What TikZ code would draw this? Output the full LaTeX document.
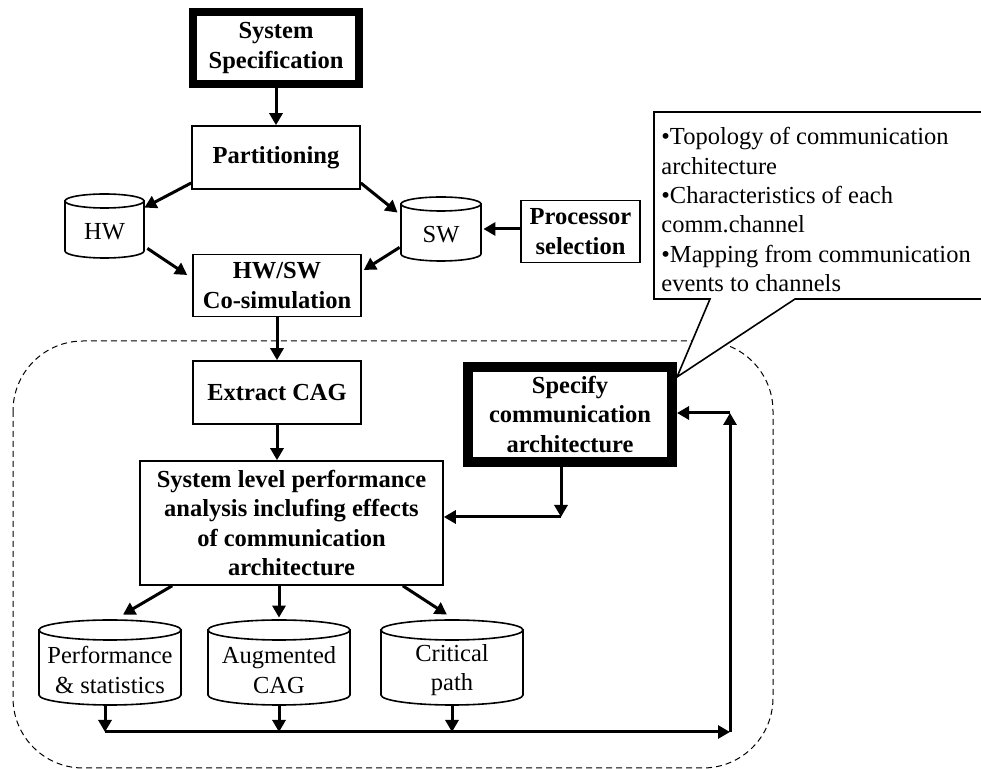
\documentclass[tikz,border=0pt]{standalone}
\usepackage{fontspec}
\setmainfont{Liberation Serif}
\usetikzlibrary{arrows.meta,calc}
\newcommand\dbcyl[7]{% name, cx, cy, half width, half height, ry, text
  \pgfmathsetmacro\cL{#2-#4}\pgfmathsetmacro\cR{#2+#4}%
  \pgfmathsetmacro\cT{#3-#5+#6}\pgfmathsetmacro\cB{#3+#5-#6}%
  \pgfmathsetmacro\cTy{#3+0.75*#6}%
  \draw[cylline] (\cL,\cT) -- (\cL,\cB) arc[start angle=180,end angle=0,x radius=#4,y radius=#6] -- (\cR,\cT) -- cycle;
  \draw[cylline] (#2,\cT) ellipse[x radius=#4,y radius=#6];
  \node[inner sep=0pt, minimum width=#4 pt, minimum height=#5 pt] (#1) at (#2,#3) {};
  \node[inner sep=0pt, align=center] (#1-t) at (#2,\cTy) {#7};
}
\begin{document}
\begin{tikzpicture}[x=0.5pt,y=-0.5pt,
  font=\fontsize{12.25}{14.7}\selectfont,
  box/.style={draw, line width=0.8pt, fill=white, align=center, inner sep=0pt,
    font=\fontsize{12.25}{14.7}\selectfont\bfseries},
  thickbox/.style={box, line width=4pt},
  thickerbox/.style={box, line width=5pt},
  cylline/.style={draw, line width=0.8pt, fill=white},
  arr/.style={line width=1.5pt, -{Triangle[length=6pt,width=6.5pt]}},
  region/.style={draw, dashed, dash pattern=on 3pt off 2pt, line width=0.5pt, rounded corners=35pt},
  callout/.style={draw, line width=0.8pt, fill=white},
]
\useasboundingbox (0,0) rectangle (981,769);
\clip (0,0) rectangle (981,769);

% dashed region
\draw[region] (13,341) rectangle (773,768);

% boxes
\node[thickbox, minimum width=83pt, minimum height=36pt] (spec) at (276,48) {System\\Specification};
\node[box, minimum width=84pt, minimum height=31.5pt] (part) at (276,157.5) {Partitioning};
\node[box, minimum width=59.5pt, minimum height=31pt] (proc) at (580.5,231.5) {Processor\\selection};
\node[box, minimum width=84pt, minimum height=31pt] (cosim) at (277,285.5) {HW/SW\\Co-simulation};
\node[box, minimum width=84pt, minimum height=31.5pt] (extract) at (277,392.5) {Extract CAG};
\node[box, minimum width=151.5pt, minimum height=62pt] (sys) at (291.5,523) {System level performance\\analysis inclufing effects\\of communication\\architecture};
\node[thickerbox, minimum width=102pt, minimum height=47.5pt] (specify) at (570,414.5) {Specify\\communication\\architecture};

% cylinders
\dbcyl{hw}{104.5}{226}{39.5}{32}{7}{HW}
\dbcyl{sw}{441}{229}{40}{32}{7}{SW}
\dbcyl{perf}{110}{662.5}{71}{42.5}{10}{Performance\\\& statistics}
\dbcyl{aug}{279}{662.5}{71}{42.5}{10}{Augmented\\CAG}
\dbcyl{crit}{452}{662.5}{71}{42.5}{10}{Critical\\path}

% connectors
\draw[arr] (spec) -- (part);
\draw[arr] ([yshift=-12.75pt]part.west) -- ([yshift=-7pt]hw.north east);
\draw[arr] ([yshift=-12.75pt]part.east) -- ([xshift=-1.5pt,yshift=-8pt]sw.north west);
\draw[arr] ([xshift=1.5pt,yshift=5pt]hw.south east) -- ([xshift=-2.5pt,yshift=5.25pt]cosim.west);
\draw[arr] ([xshift=-0.5pt,yshift=7pt]sw.south west) -- ([xshift=1pt,yshift=7.75pt]cosim.east);
\draw[arr] (proc.west |- sw.east) -- ([xshift=1pt]sw.east);
\draw[arr] (cosim) -- (extract);
\draw[arr] (extract.south) -- (extract.south |- sys.north);
\draw[arr] ([xshift=16.5pt]sys.south west) -- ([xshift=6.5pt,yshift=2.5pt]perf.north);
\draw[arr] (sys.south -| aug.north) -- ([yshift=1pt]aug.north);
\draw[arr] ([xshift=-20.5pt]sys.south east) -- ([xshift=-2.5pt,yshift=2.5pt]crit.north);

\coordinate (busL) at (105,732);
\coordinate (busR) at (730,732);
\coordinate (up) at (730,413);
\coordinate (mid) at (561,517);
\draw[arr] ([xshift=-2.5pt]perf.south) -- (busL);
\draw[arr] (aug.south) -- (aug.south |- busL);
\draw[arr] (crit.south) -- (crit.south |- busL);
\draw[arr] (busL) -- (busR);
\draw[arr] (busR) -- (up);
\draw[arr] (up) -- (up -| specify.east);
\draw[arr] (specify.south -| mid) -- (mid);
\draw[arr] (mid) -- (mid -| sys.east);

% callout
\coordinate (tip) at ([yshift=-7.5pt]specify.north east);
\draw[callout] (654,112) -- (995,112) -- (995,299) -- (795,299) -- (tip) -- (710,299) -- (654,299) -- cycle;
\node[anchor=north west, inner sep=0pt, align=left] (note) at (661,127)
  {•Topology of communication\\architecture\\•Characteristics of each\\comm.channel\\•Mapping from communication\\events to channels};
\end{tikzpicture}
\end{document}
